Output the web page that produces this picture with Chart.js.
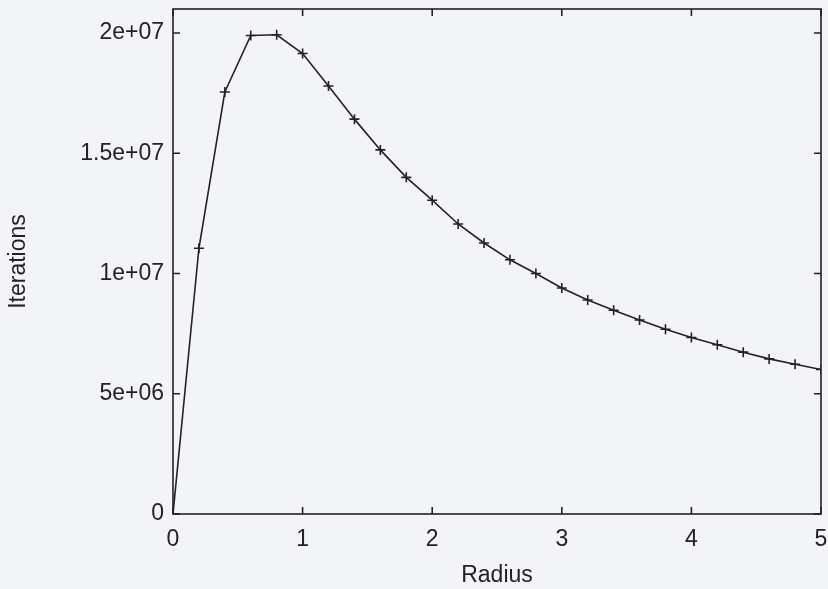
<!DOCTYPE html>
<html>
<head>
<meta charset="utf-8">
<script src="https://cdn.jsdelivr.net/npm/chart.js@4/dist/chart.umd.min.js"></script>
<style>
  html, body { margin: 0; padding: 0; background: #f3f4f8; }
  #wrap { width: 828px; height: 589px; }
</style>
</head>
<body>
<div id="wrap"><canvas id="c" width="828" height="589"></canvas></div>
<script>
// Radius samples and the iteration counts measured at each
const radius = [0, 0.2, 0.4, 0.6, 0.8, 1.0, 1.2, 1.4, 1.6, 1.8, 2.0, 2.2, 2.4,
  2.6, 2.8, 3.0, 3.2, 3.4, 3.6, 3.8, 4.0, 4.2, 4.4, 4.6, 4.8, 5.0];
const iterations = [0, 1.105e7, 1.755e7, 1.990e7, 1.993e7, 1.915e7, 1.780e7,
  1.642e7, 1.514e7, 1.400e7, 1.305e7, 1.206e7, 1.127e7, 1.057e7, 1.000e7,
  0.940e7, 0.890e7, 0.847e7, 0.807e7, 0.768e7, 0.734e7, 0.704e7, 0.673e7,
  0.645e7, 0.623e7, 0.601e7];

// Axis ticks
const xTickValues = [0, 1, 2, 3, 4, 5];
const xTickLabels = ['0', '1', '2', '3', '4', '5'];
const yTickValues = [0, 5e6, 1e7, 1.5e7, 2e7];
const yTickLabels = ['0', '5e+06', '1e+07', '1.5e+07', '2e+07'];

const INK = '#222222';
const FONT = "'Liberation Sans', Arial, Helvetica, sans-serif";

// Paper background, frame and inward tick marks on all four sides
const framePlugin = {
  id: 'frame',
  beforeDraw(chart) {
    const ctx = chart.ctx;
    ctx.save();
    ctx.fillStyle = '#f3f4f8';
    ctx.fillRect(0, 0, chart.width, chart.height);
    ctx.restore();
  },
  afterDatasetsDraw(chart) {
    const { ctx, chartArea: a, scales } = chart;
    const len = 7;
    ctx.save();
    ctx.strokeStyle = INK;
    ctx.lineWidth = 1.6;
    ctx.beginPath();
    scales.x.ticks.forEach(t => {
      const px = scales.x.getPixelForValue(t.value);
      ctx.moveTo(px, a.bottom); ctx.lineTo(px, a.bottom - len);
      ctx.moveTo(px, a.top); ctx.lineTo(px, a.top + len);
    });
    scales.y.ticks.forEach(t => {
      const py = scales.y.getPixelForValue(t.value);
      ctx.moveTo(a.left, py); ctx.lineTo(a.left + len, py);
      ctx.moveTo(a.right, py); ctx.lineTo(a.right - len, py);
    });
    ctx.stroke();
    ctx.strokeRect(a.left, a.top, a.right - a.left, a.bottom - a.top);
    ctx.restore();
  }
};

new Chart(document.getElementById('c'), {
  type: 'line',
  data: {
    datasets: [{
      data: radius.map((r, i) => ({ x: r, y: iterations[i] })),
      borderColor: INK,
      borderWidth: 1.6,
      tension: 0,
      pointStyle: 'cross',
      pointRadius: 5,
      pointBorderWidth: 1.6,
      pointBorderColor: INK,
      pointBackgroundColor: INK,
      fill: false
    }]
  },
  options: {
    responsive: false,
    animation: false,
    layout: { padding: { top: 9, right: 7, left: 0, bottom: 0 } },
    plugins: { legend: { display: false }, tooltip: { enabled: false } },
    scales: {
      x: {
        type: 'linear',
        min: 0, max: 5,
        afterBuildTicks(s) { s.ticks = xTickValues.map(v => ({ value: v })); },
        afterFit(s) { s.height = 75; s.paddingLeft = 0; s.paddingRight = 0; },
        grid: { display: false, drawTicks: false },
        border: { display: false },
        ticks: {
          color: INK,
          font: { family: FONT, size: 23 },
          padding: 12,
          maxRotation: 0,
          callback: (v) => xTickLabels[xTickValues.indexOf(v)]
        },
        title: {
          display: true, text: 'Radius', color: INK,
          font: { family: FONT, size: 23 },
          padding: { top: 0, bottom: 0 }
        }
      },
      y: {
        type: 'linear',
        min: 0, max: 2.1e7,
        afterBuildTicks(s) { s.ticks = yTickValues.map(v => ({ value: v })); },
        afterFit(s) { s.width = 173; s.paddingTop = 0; s.paddingBottom = 0; },
        grid: { display: false, drawTicks: false },
        border: { display: false },
        ticks: {
          color: INK,
          font: { family: FONT, size: 23 },
          padding: 9,
          callback: (v) => yTickLabels[yTickValues.indexOf(v)]
        },
        title: {
          display: true, text: 'Iterations', color: INK,
          font: { family: FONT, size: 23 },
          padding: { top: 5, bottom: 0 }
        }
      }
    }
  },
  plugins: [framePlugin]
});
</script>
</body>
</html>
